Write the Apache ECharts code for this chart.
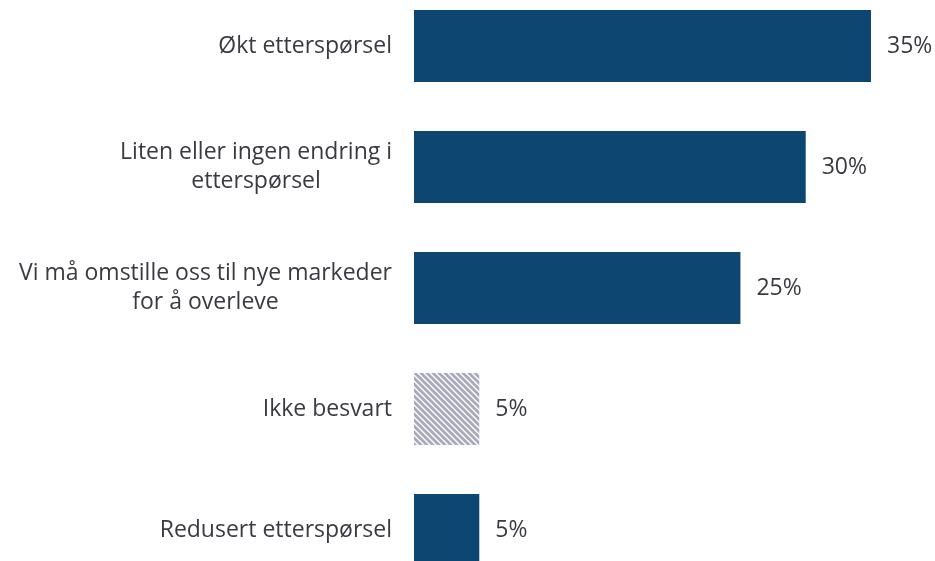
<!DOCTYPE html>
<html><head><meta charset="utf-8">
<script src="https://cdn.jsdelivr.net/npm/echarts@6/dist/echarts.min.js"></script>
<style>html,body{margin:0;padding:0;background:#fff}#c{width:935px;height:561px}</style>
</head><body><div id="c"></div>
<script>
var categories = [
  'Økt etterspørsel',
  'Liten eller ingen endring i\netterspørsel',
  'Vi må omstille oss til nye markeder\nfor å overleve',
  'Ikke besvart',
  'Redusert etterspørsel'
];
var values = [35, 30, 25, 5, 5];
var hatched = [false, false, false, true, false];

var FONT = 'Open Sans';
var TEXT = '#3a3a42';
var BAR = '#0d4771';

function hatchPattern() {
  var p = 6, cv = document.createElement('canvas');
  cv.width = p; cv.height = p;
  var g = cv.getContext('2d');
  g.fillStyle = '#ffffff'; g.fillRect(0, 0, p, p);
  g.strokeStyle = '#a9a9be'; g.lineWidth = 2.8;
  for (var k = -1; k <= 1; k++) {
    g.beginPath(); g.moveTo(-1, k * p - 1); g.lineTo(p + 1, k * p + p + 1); g.stroke();
  }
  return cv;
}
var pat = hatchPattern();

var chart = echarts.init(document.getElementById('c'), null, {renderer: 'canvas'});
chart.setOption({
  animation: false,
  grid: {left: 414, right: 64, top: -14.5, bottom: -29.5, containLabel: false, outerBoundsMode: 'none'},
  xAxis: {type: 'value', min: 0, max: 35, show: false},
  yAxis: {
    type: 'category', inverse: true, data: categories,
    axisLine: {show: false}, axisTick: {show: false}, splitLine: {show: false},
    axisLabel: {
      align: 'right', margin: 22,
      formatter: function (v) {
        return v.split('\n').map(function (l) { return '{c|' + l + '}'; }).join('\n');
      },
      rich: {c: {align: 'center', fontFamily: FONT, fontSize: 23, lineHeight: 29, color: TEXT}}
    }
  },
  series: [{
    type: 'bar', barWidth: 72,
    data: values.map(function (v, i) {
      return {value: v, itemStyle: {color: hatched[i] ? {image: pat, repeat: 'repeat'} : BAR}};
    }),
    label: {
      show: true, position: 'right', distance: 16,
      fontFamily: FONT, fontSize: 23, color: TEXT,
      formatter: function (p) { return p.value + '%'; }
    }
  }]
});
</script></body></html>
